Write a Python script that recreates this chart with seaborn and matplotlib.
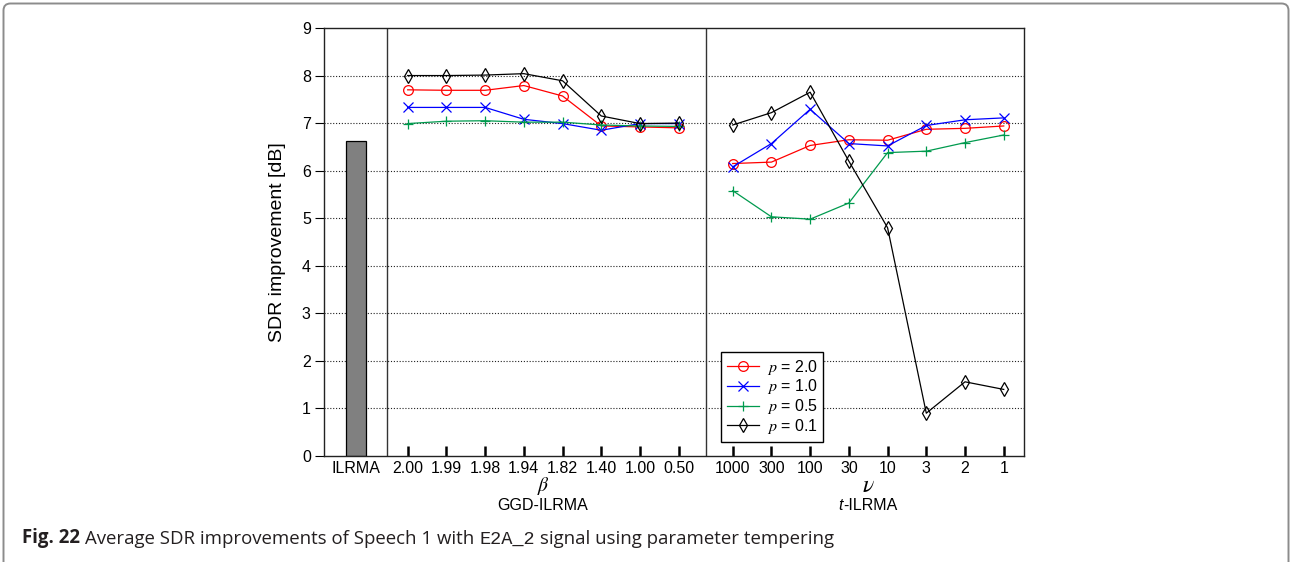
import numpy as np
import pandas as pd
import matplotlib
matplotlib.use("Agg")
import matplotlib.pyplot as plt
from matplotlib.lines import Line2D
from matplotlib.patches import FancyBboxPatch
import seaborn as sns

# ---- data -------------------------------------------------------------
ilrma_value = 6.62

beta_labels = ["2.00", "1.99", "1.98", "1.94", "1.82", "1.40", "1.00", "0.50"]
nu_labels = ["1000", "300", "100", "30", "10", "3", "2", "1"]

p_labels = ["2.0", "1.0", "0.5", "0.1"]

ggd_p20 = [7.70, 7.69, 7.69, 7.79, 7.57, 6.94, 6.92, 6.90]
ggd_p10 = [7.33, 7.33, 7.33, 7.08, 6.99, 6.85, 6.99, 6.99]
ggd_p05 = [6.99, 7.04, 7.05, 7.02, 7.02, 6.96, 6.94, 6.93]
ggd_p01 = [8.00, 8.00, 8.01, 8.04, 7.89, 7.15, 6.99, 7.00]

t_p20 = [6.15, 6.18, 6.53, 6.65, 6.64, 6.87, 6.89, 6.94]
t_p10 = [6.08, 6.57, 7.29, 6.57, 6.52, 6.95, 7.07, 7.11]
t_p05 = [5.58, 5.03, 4.98, 5.32, 6.38, 6.41, 6.59, 6.75]
t_p01 = [6.96, 7.22, 7.65, 6.20, 4.80, 0.90, 1.56, 1.40]

# ---- layout -----------------------------------------------------------
W, H, DPI = 1290, 562, 100
ilrma_x = 0.0
ggd_x = 1.335 + np.arange(len(beta_labels))
t_x = 9.729 + np.arange(len(nu_labels))
sep_x = [0.793, 9.031]
x_lim = (-0.826, 17.26)

styles = {
    "2.0": dict(color="#ff0000", marker="o", ms=7.0),
    "1.0": dict(color="#0000ff", marker="x", ms=7.0),
    "0.5": dict(color="#009a4e", marker="+", ms=7.5),
    "0.1": dict(color="#000000", marker="d", ms=7.2),
}

ggd_series = dict(zip(p_labels, [ggd_p20, ggd_p10, ggd_p05, ggd_p01]))
t_series = dict(zip(p_labels, [t_p20, t_p10, t_p05, t_p01]))

plt.rcParams["font.family"] = ["Liberation Sans", "DejaVu Sans"]
plt.rcParams["mathtext.fontset"] = "stix"

fig = plt.figure(figsize=(W / DPI, H / DPI), dpi=DPI)
ax = fig.add_axes([324 / W, 1 - 456 / H, (1024.3 - 324) / W, (456 - 28) / H])

# dotted horizontal grid
for yv in range(1, 9):
    ax.axhline(yv, color="#222222", lw=0.8, ls=(0, (1, 1.6)), zorder=0.5)

# ILRMA baseline bar
ax.bar([ilrma_x], [ilrma_value], width=0.53, color="#808080",
       edgecolor="#000000", linewidth=0.9, zorder=2)

# section separators
for sx in sep_x:
    ax.axvline(sx, color="#333333", lw=1.0, zorder=1)

# parameter-tempering curves
for xs, series in [(ggd_x, ggd_series), (t_x, t_series)]:
    for p in p_labels:
        st = styles[p]
        df = pd.DataFrame({"x": xs, "y": series[p]})
        sns.lineplot(data=df, x="x", y="y", ax=ax, color=st["color"],
                     marker=st["marker"], markersize=st["ms"],
                     markerfacecolor="none", markeredgecolor=st["color"],
                     markeredgewidth=0.9, linewidth=0.9, legend=False,
                     sort=False, zorder=3)

ax.set_xlim(*x_lim)
ax.set_ylim(0, 9)
ax.set_xlabel("")
ax.set_ylabel("")

for s in ax.spines.values():
    s.set_color("#222222")
    s.set_linewidth(1.0)

ax.set_yticks(range(0, 10))
ax.tick_params(axis="y", direction="out", length=6.5, width=0.8, pad=3.0,
               labelsize=11.5, colors="#000000")
ax.set_xticks(list(ggd_x) + list(t_x), beta_labels + nu_labels)
ax.set_xticks([ilrma_x], ["ILRMA"], minor=True)
ax.tick_params(axis="x", which="major", direction="in", length=7.5, width=1.8,
               pad=3.5, labelsize=11.5)
ax.tick_params(axis="x", which="minor", length=0, pad=3.5, labelsize=11.5)

# axis titles
fig.text(277 / W, 1 - 242 / H, "SDR improvement [dB]", rotation=90,
         ha="center", va="center", fontsize=14)
fig.text(543 / W, 1 - 486 / H, r"$\beta$", ha="center", va="center", fontsize=14)
fig.text(868.5 / W, 1 - 486 / H, r"$\nu$", ha="center", va="center", fontsize=17)
fig.text(543 / W, 1 - 506 / H, "GGD-ILRMA", ha="center", va="center", fontsize=11.5)
fig.text(843 / W, 1 - 506 / H, "t", ha="right", va="center", fontsize=11.5,
         style="italic")
fig.text(843 / W, 1 - 506 / H, "-ILRMA", ha="left", va="center", fontsize=11.5)

# legend
handles = [Line2D([0], [0], color=styles[p]["color"], marker=styles[p]["marker"],
                  markersize=styles[p]["ms"], markerfacecolor="none",
                  markeredgewidth=0.9, linewidth=0.9) for p in p_labels]
leg = ax.legend(handles, [rf"$\mathit{{p}}$ = {p}" for p in p_labels], loc="lower left",
                bbox_to_anchor=(721 / W, 1 - 441.5 / H), bbox_transform=fig.transFigure,
                borderaxespad=0, fancybox=False, framealpha=1, edgecolor="#000000",
                fontsize=11.5, handlelength=2.0, handletextpad=0.5,
                labelspacing=0.05, borderpad=0.35)
leg.get_frame().set_linewidth(1.0)
leg.set_zorder(5)

# caption
renderer = fig.canvas.get_renderer()
cap_y = 1 - 543.5 / H
x_px = 22.0
pieces = [
    ("Fig. 22", dict(family=["Open Sans", "DejaVu Sans"], weight="bold")),
    ("Average SDR improvements of Speech 1 with", dict(family=["Open Sans", "DejaVu Sans"])),
    ("E2A_2", dict(family=["Liberation Mono", "DejaVu Sans Mono"])),
    ("signal using parameter tempering", dict(family=["Open Sans", "DejaVu Sans"])),
]
for txt, kw in pieces:
    t = fig.text(x_px / W, cap_y, txt, ha="left", va="baseline", fontsize=13.4,
                 color="#231f20", **kw)
    bb = t.get_window_extent(renderer)
    x_px = bb.x1 + 5.0

# outer frame (open at the bottom edge)
frame = FancyBboxPatch((3.5, -20), 1285, 578.5, boxstyle="round,pad=0,rounding_size=7",
                       transform=None, facecolor="none", edgecolor="#8c8c8c",
                       linewidth=1.4)
fig.add_artist(frame)

fig.savefig("out.png", dpi=DPI)
